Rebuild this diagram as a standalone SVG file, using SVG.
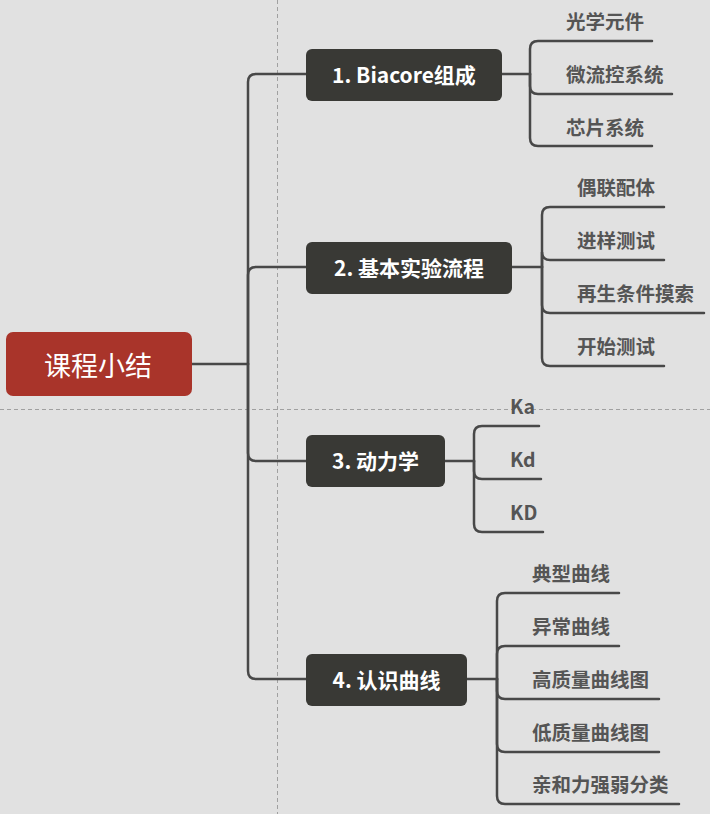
<svg xmlns="http://www.w3.org/2000/svg" width="710" height="814" viewBox="0 0 710 814">
<style>
.bg{fill:#e1e1e1}
.guide{stroke:#a0a0a0;stroke-width:1;stroke-dasharray:4 3;fill:none}
.c{stroke:#484848;stroke-width:2.5;fill:none;stroke-linecap:round}
.root{fill:#a9342a}
.node{fill:#393935}
.rt{font-family:"Noto Sans CJK SC","Noto Sans",sans-serif;font-size:27px;fill:#ffffff;text-anchor:middle;dominant-baseline:central}
.nt{font-family:"Noto Sans CJK SC","Noto Sans",sans-serif;font-size:21px;font-weight:bold;fill:#ffffff;text-anchor:middle;dominant-baseline:central}
.st{font-family:"Noto Sans CJK SC","Noto Sans",sans-serif;font-size:19.5px;font-weight:bold;fill:#555555;dominant-baseline:central}
</style>
<rect class="bg" x="0" y="0" width="710" height="814"/>
<line class="guide" x1="277.5" y1="0" x2="277.5" y2="814"/>
<line class="guide" x1="0" y1="409.5" x2="710" y2="409.5"/>
<g id="connectors">
<path class="c" d="M192,364 H248"/>
<path class="c" d="M248,364 V82 Q248,74 256,74 H306"/>
<path class="c" d="M248,364 V275 Q248,267 256,267 H306"/>
<path class="c" d="M248,364 V453 Q248,461 256,461 H306"/>
<path class="c" d="M248,364 V671 Q248,679 256,679 H306"/>
<path class="c" d="M502,74 H530"/>
<path class="c" d="M530,74 V49 Q530,41 538,41 H652"/>
<path class="c" d="M530,74 V86 Q530,94 538,94 H672"/>
<path class="c" d="M530,74 V138 Q530,146 538,146 H652"/>
<path class="c" d="M512,267 H542"/>
<path class="c" d="M542,267 V215 Q542,207 550,207 H664"/>
<path class="c" d="M542,267 V252 Q542,260 550,260 H664"/>
<path class="c" d="M542,267 V305 Q542,313 550,313 H704"/>
<path class="c" d="M542,267 V358 Q542,366 550,366 H664"/>
<path class="c" d="M445,461 H474"/>
<path class="c" d="M474,461 V434 Q474,426 482,426 H539"/>
<path class="c" d="M474,461 V471 Q474,479 482,479 H541"/>
<path class="c" d="M474,461 V524 Q474,532 482,532 H543"/>
<path class="c" d="M467,679 H497"/>
<path class="c" d="M497,679 V601 Q497,593 505,593 H619"/>
<path class="c" d="M497,679 V654 Q497,646 505,646 H619"/>
<path class="c" d="M497,679 V691 Q497,699 505,699 H659"/>
<path class="c" d="M497,679 V744 Q497,752 505,752 H659"/>
<path class="c" d="M497,679 V796 Q497,804 505,804 H679"/>
</g>
<g id="root"><rect class="root" x="6" y="332" width="186" height="64" rx="7"/><text class="rt" x="98" y="364">课程小结</text></g>
<g id="n1"><rect class="node" x="306" y="49" width="196" height="52" rx="6"/><text class="nt" x="404" y="74">1. Biacore组成</text></g>
<g id="n2"><rect class="node" x="306" y="242" width="206" height="52" rx="6"/><text class="nt" x="409" y="267">2. 基本实验流程</text></g>
<g id="n3"><rect class="node" x="306" y="435" width="139" height="52" rx="6"/><text class="nt" x="375.5" y="460">3. 动力学</text></g>
<g id="n4"><rect class="node" x="306" y="654" width="161" height="52" rx="6"/><text class="nt" x="386.5" y="679">4. 认识曲线</text></g>
<g id="s1a"><text class="st" x="566" y="20">光学元件</text></g>
<g id="s1b"><text class="st" x="566" y="73">微流控系统</text></g>
<g id="s1c"><text class="st" x="566" y="126">芯片系统</text></g>
<g id="s2a"><text class="st" x="577" y="186">偶联配体</text></g>
<g id="s2b"><text class="st" x="577" y="239">进样测试</text></g>
<g id="s2c"><text class="st" x="577" y="292">再生条件摸索</text></g>
<g id="s2d"><text class="st" x="577" y="345">开始测试</text></g>
<g id="s3a"><text class="st" x="510" y="405">Ka</text></g>
<g id="s3b"><text class="st" x="510" y="458">Kd</text></g>
<g id="s3c"><text class="st" x="510" y="511">KD</text></g>
<g id="s4a"><text class="st" x="532" y="572">典型曲线</text></g>
<g id="s4b"><text class="st" x="532" y="625">异常曲线</text></g>
<g id="s4c"><text class="st" x="532" y="678">高质量曲线图</text></g>
<g id="s4d"><text class="st" x="532" y="731">低质量曲线图</text></g>
<g id="s4e"><text class="st" x="532" y="783">亲和力强弱分类</text></g>
</svg>
